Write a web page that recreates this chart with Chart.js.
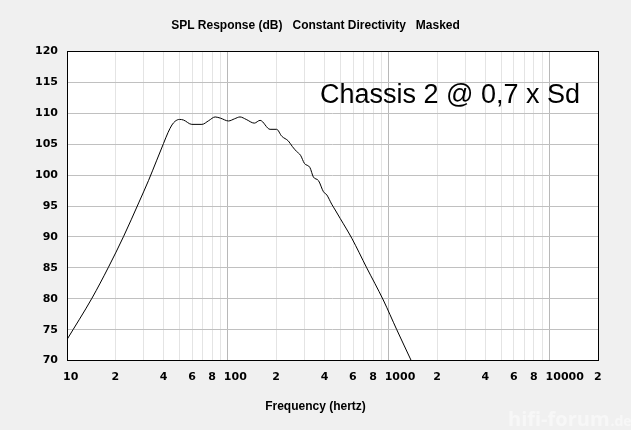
<!DOCTYPE html>
<html>
<head>
<meta charset="utf-8">
<script src="https://cdn.jsdelivr.net/npm/chart.js@4"></script>
<style>
  html, body { margin: 0; padding: 0; background: #f0f0f0; }
  #wrap { width: 631px; height: 430px; }
</style>
</head>
<body>
<div id="wrap"><canvas id="spl"></canvas></div>
<script>
var freqs = [10, 14.3, 18.1, 22.5, 27.9, 32.1, 36, 39.8, 42.5, 44.9, 47, 50, 53, 59.7, 69, 76, 83.4, 90, 101, 110, 119, 130, 146, 158.6, 183, 201, 216, 238, 252, 268, 283, 299, 324, 340, 366, 393, 412, 442, 465, 499, 589, 730, 925, 1122, 1377];
var spl = [73.4, 80.1, 85.1, 90.1, 95.5, 99.1, 102.3, 105.1, 106.9, 108.1, 108.7, 109.0, 108.9, 108.2, 108.2, 108.8, 109.4, 109.2, 108.75, 109.1, 109.4, 109.0, 108.4, 108.85, 107.4, 107.4, 106.3, 105.5, 104.6, 103.8, 103.2, 101.9, 101.2, 99.7, 99.1, 97.3, 96.8, 95.3, 94.35, 93.0, 89.8, 85.0, 79.8, 75.0, 70.05];

var xTicks = [10, 20, 30, 40, 50, 60, 70, 80, 90, 100, 200, 300, 400, 500, 600, 700, 800, 900, 1000, 2000, 3000, 4000, 5000, 6000, 7000, 8000, 9000, 10000, 20000];
var xTickLabels = ['10', '2', '', '4', '', '6', '', '8', '', '100', '2', '', '4', '', '6', '', '8', '', '1000', '2', '', '4', '', '6', '', '8', '', '10000', '2'];
var majorFreqs = [10, 100, 1000, 10000];

var tickFont = { family: 'DejaVu Sans', size: 11, weight: 'bold' };

var frame = {
  id: 'frame',
  beforeDraw: function(chart) {
    var a = chart.chartArea, c = chart.ctx;
    c.save();
    c.fillStyle = '#f0f0f0';
    c.fillRect(0, 0, chart.width, chart.height);
    c.fillStyle = '#ffffff';
    c.fillRect(a.left, a.top, a.right - a.left, a.bottom - a.top);
    // faint watermark
    c.fillStyle = '#f7f7f7';
    c.font = 'bold 20px "Open Sans"';
    c.fillText('hifi-forum', 508, 426);
    var w = c.measureText('hifi-forum').width;
    c.font = 'bold 14px "Open Sans"';
    c.fillText('.de', 508 + w + 1, 426);
    c.restore();
  },
  afterDraw: function(chart) {
    var a = chart.chartArea, c = chart.ctx;
    c.save();
    c.strokeStyle = '#000';
    c.lineWidth = 1;
    c.strokeRect(Math.round(a.left) + 0.5, Math.round(a.top) + 0.5, Math.round(a.right - a.left), Math.round(a.bottom - a.top));
    c.fillStyle = '#000';
    c.font = '27px "Liberation Sans"';
    c.textBaseline = 'alphabetic';
    c.fillText('Chassis 2 @ 0,7 x Sd', 320, 103);
    c.restore();
  }
};

new Chart(document.getElementById('spl'), {
  type: 'line',
  data: {
    datasets: [{
      data: freqs.map(function(f, i) { return { x: f, y: spl[i] }; }),
      borderColor: '#000',
      borderWidth: 1,
      pointRadius: 0,
      cubicInterpolationMode: 'monotone',
      fill: false
    }]
  },
  options: {
    responsive: true,
    maintainAspectRatio: false,
    animation: false,
    layout: { padding: 0 },
    plugins: {
      legend: { display: false },
      tooltip: { enabled: false },
      title: {
        display: true,
        text: 'SPL Response (dB)   Constant Directivity   Masked',
        color: '#000',
        font: { family: 'Liberation Sans', size: 12, weight: 'bold' },
        padding: { top: 18, bottom: 19 }
      },
      subtitle: {
        display: true,
        position: 'bottom',
        text: 'Frequency (hertz)',
        color: '#000',
        font: { family: 'Liberation Sans', size: 12, weight: 'bold' },
        padding: { top: 0, bottom: 16 }
      }
    },
    scales: {
      x: {
        type: 'logarithmic',
        min: 10,
        max: 20000,
        afterBuildTicks: function(scale) {
          scale.ticks = xTicks.map(function(v) { return { value: v }; });
        },
        afterFit: function(scale) { scale.height = 39; },
        ticks: {
          autoSkip: false,
          maxRotation: 0,
          align: 'start',
          labelOffset: -4,
          padding: 10,
          color: '#000',
          font: tickFont,
          callback: function(v, i) { return xTickLabels[i]; }
        },
        grid: {
          drawTicks: false,
          color: function(ctx) {
            var v = ctx.tick && ctx.tick.value;
            return majorFreqs.indexOf(v) >= 0 ? '#b8b8b8' : '#e4e4e4';
          },
          lineWidth: 1
        },
        border: { display: false }
      },
      y: {
        min: 70,
        max: 120,
        afterFit: function(scale) { scale.width = 67; },
        ticks: {
          stepSize: 5,
          padding: 9,
          color: '#000',
          font: tickFont
        },
        grid: { drawTicks: false, color: '#c0c0c0', lineWidth: 1 },
        border: { display: false }
      },
      // empty right margin so titles stay centred on the canvas
      yr: {
        position: 'right',
        min: 70,
        max: 120,
        afterFit: function(scale) { scale.width = 33; },
        ticks: { display: false },
        grid: { display: false, drawTicks: false },
        border: { display: false }
      }
    }
  },
  plugins: [frame]
});
</script>
</body>
</html>
